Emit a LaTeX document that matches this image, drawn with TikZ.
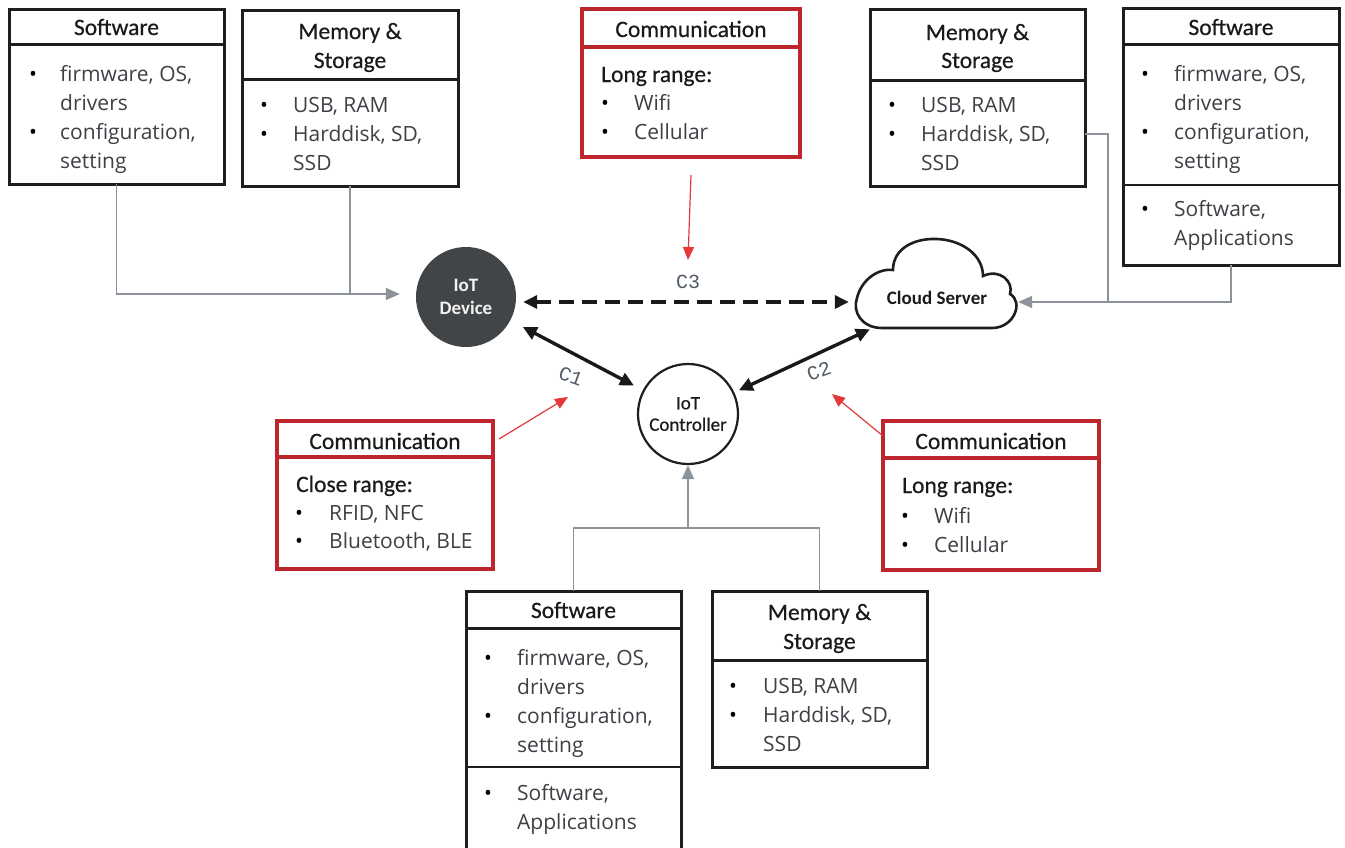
\documentclass[tikz,border=0pt]{standalone}
\usepackage{fontspec}
\usetikzlibrary{arrows.meta,shapes.geometric}
\newfontfamily\hdrfont{Carlito}[FakeBold=0.5]
\newfontfamily\capfont{Carlito}
\newfontfamily\bodyfont{Open Sans}
\newfontfamily\lblfont{Liberation Mono}
\definecolor{boxblack}{HTML}{1E1E1E}
\definecolor{boxred}{HTML}{BE262D}
\definecolor{redarrow}{HTML}{E5383B}
\definecolor{conngray}{HTML}{8C939B}
\definecolor{hdrtext}{HTML}{1A1A1A}
\definecolor{bodytext}{HTML}{3D4045}
\definecolor{devfill}{HTML}{424547}
\definecolor{lbltext}{HTML}{4F5A66}
% one line of text inside a box
\newcommand\bodyln[4]{\node[items] (#1) at (#2,#3) {#4};}
\newcommand\bul[3]{\node[dot] (#1) at (#2,#3) {•};}
\newcommand\hdln[4]{\node[hdr] (#1) at (#2,#3) {#4};}
\begin{document}
\begin{tikzpicture}[x=1pt,y=-1pt,
  box/.style={draw=boxblack, line width=3pt, anchor=north west, inner sep=0pt, outer sep=0pt, fill=white},
  redbox/.style={box, draw=boxred, line width=3.2pt},
  divider/.style={draw=boxblack, line width=3pt},
  thindiv/.style={draw=boxblack, line width=1.5pt},
  reddiv/.style={draw=boxred, line width=3.2pt},
  hdr/.style={font=\hdrfont\fontsize{23.5}{29}\selectfont, text=hdrtext, anchor=base, inner sep=0pt},
  sub/.style={font=\hdrfont\fontsize{23.5}{29}\selectfont, text=hdrtext, anchor=base west, inner sep=0pt},
  items/.style={font=\bodyfont\fontsize{21}{29}\selectfont, text=bodytext, anchor=base west, inner sep=0pt},
  dot/.style={font=\bodyfont\fontsize{21}{29}\selectfont, text=black, anchor=base, inner sep=0pt},
  conn/.style={draw=conngray, line width=1.6pt},
  connarrow/.style={conn, -{Triangle[length=14pt,width=12pt]}},
  link/.style={draw=black!90, line width=3.4pt, {Triangle[length=14pt,width=13pt]}-{Triangle[length=14pt,width=13pt]}},
  dashlink/.style={link, dash pattern=on 15pt off 8pt},
  redarr/.style={draw=redarrow, line width=1.2pt, -{Triangle[length=13pt,width=11pt]}},
  clbl/.style={font=\lblfont\fontsize{20}{24}\selectfont, text=lbltext, inner sep=0pt}
]
\useasboundingbox (0,0) rectangle (1345,847);
\fill[white] (0,0) rectangle (1345,847);

% ---------- the three devices ----------
\node[circle, fill=devfill, minimum size=100pt, inner sep=0pt, align=center,
      font=\capfont\bfseries\fontsize{19}{23}\selectfont, text=white!95!black] (dev) at (466,297) {IoT\\Device};
\node[circle, draw=boxblack, line width=2.2pt, fill=white, minimum size=100pt, inner sep=0pt, align=center,
      font=\hdrfont\fontsize{19}{21.5}\selectfont, text=hdrtext] (ctrl) at (688,414) {IoT\\Controller};
% cloud outline
\draw[boxblack, line width=2.6pt, fill=white]
  (882,328) .. controls (862,328) and (852,312) .. (857,298)
  .. controls (861,281) and (877,268) .. (893,270)
  .. controls (893,248) and (915,238) .. (937,239)
  .. controls (962,240) and (983,255) .. (983,276)
  .. controls (1000,268) and (1014,282) .. (1010,294)
  .. controls (1024,302) and (1014,328) .. (992,328)
  -- cycle;
\node[ellipse, minimum width=176pt, minimum height=96pt, inner sep=0pt,
      font=\capfont\bfseries\fontsize{19}{22}\selectfont, text=hdrtext] (cloud) at (937,298) {\raisebox{-5pt}{Cloud Server}};

% ---------- top-left boxes ----------
\node[box, minimum width=215pt, minimum height=175pt] (swA) at (9,9) {};
\draw[divider] (9,44) -- (224,44);
\hdln{swAh}{116.5}{35}{Software}
\bul{swAb1}{33}{81} \bul{swAb2}{33}{139}
\bodyln{swA1}{60}{81}{firmware, OS,}
\bodyln{swA2}{60}{110}{drivers}
\bodyln{swA3}{60}{139}{configuration,}
\bodyln{swA4}{60}{168}{setting}

\node[box, minimum width=216pt, minimum height=176pt] (mmA) at (242,10) {};
\draw[divider] (242,79) -- (458,79);
\hdln{mmAh1}{350}{39}{Memory \&}
\hdln{mmAh2}{350}{68}{Storage}
\bul{mmAb1}{264}{112} \bul{mmAb2}{264}{141}
\bodyln{mmA1}{293}{112}{USB, RAM}
\bodyln{mmA2}{293}{141}{Harddisk, SD,}
\bodyln{mmA3}{293}{170}{SSD}

% ---------- top communication box ----------
\node[redbox, minimum width=218pt, minimum height=148pt] (comT) at (582,9) {};
\draw[reddiv] (582,47) -- (800,47);
\hdln{comTh}{691}{37}{Communication}
\node[sub] (comTs) at (601,82) {Long range:};
\bul{comTb1}{605}{110} \bul{comTb2}{605}{139}
\bodyln{comT1}{634}{110}{Wifi}
\bodyln{comT2}{634}{139}{Cellular}

% ---------- top-right boxes ----------
\node[box, minimum width=215pt, minimum height=177pt] (mmB) at (870,9) {};
\draw[divider] (870,80) -- (1085,80);
\hdln{mmBh1}{977.5}{40}{Memory \&}
\hdln{mmBh2}{977.5}{68}{Storage}
\bul{mmBb1}{892}{112} \bul{mmBb2}{892}{141}
\bodyln{mmB1}{921}{112}{USB, RAM}
\bodyln{mmB2}{921}{141}{Harddisk, SD,}
\bodyln{mmB3}{921}{170}{SSD}

\node[box, minimum width=216pt, minimum height=257pt] (swB) at (1123,8) {};
\draw[divider] (1123,44) -- (1339,44);
\draw[thindiv] (1123,185) -- (1339,185);
\hdln{swBh}{1231}{35}{Software}
\bul{swBb1}{1145}{81} \bul{swBb2}{1145}{139} \bul{swBb3}{1145}{216}
\bodyln{swB1}{1174}{81}{firmware, OS,}
\bodyln{swB2}{1174}{110}{drivers}
\bodyln{swB3}{1174}{139}{configuration,}
\bodyln{swB4}{1174}{168}{setting}
\bodyln{swB5}{1174}{216}{Software,}
\bodyln{swB6}{1174}{245}{Applications}

% ---------- side communication boxes ----------
\node[redbox, minimum width=216pt, minimum height=148pt] (comL) at (277,421) {};
\draw[reddiv] (277,457) -- (493,457);
\hdln{comLh}{385}{449}{Communication}
\node[sub] (comLs) at (296,492) {Close range:};
\bul{comLb1}{299}{520} \bul{comLb2}{299}{548}
\bodyln{comL1}{329}{520}{RFID, NFC}
\bodyln{comL2}{329}{548}{Bluetooth, BLE}

\node[redbox, minimum width=216pt, minimum height=149pt] (comR) at (883,421) {};
\draw[reddiv] (883,458) -- (1099,458);
\hdln{comRh}{991}{449}{Communication}
\node[sub] (comRs) at (902,493) {Long range:};
\bul{comRb1}{905}{523} \bul{comRb2}{905}{552}
\bodyln{comR1}{934}{523}{Wifi}
\bodyln{comR2}{934}{552}{Cellular}

% ---------- bottom boxes ----------
\node[box, minimum width=215pt, minimum height=262pt] (swC) at (466,591) {};
\draw[divider] (466,628) -- (681,628);
\draw[thindiv] (466,767) -- (681,767);
\hdln{swCh}{573.5}{618}{Software}
\bul{swCb1}{488}{665} \bul{swCb2}{488}{723} \bul{swCb3}{488}{800}
\bodyln{swC1}{517}{665}{firmware, OS,}
\bodyln{swC2}{517}{694}{drivers}
\bodyln{swC3}{517}{723}{configuration,}
\bodyln{swC4}{517}{752}{setting}
\bodyln{swC5}{517}{800}{Software,}
\bodyln{swC6}{517}{829}{Applications}

\node[box, minimum width=215pt, minimum height=176pt] (mmC) at (712,591) {};
\draw[divider] (712,660) -- (927,660);
\hdln{mmCh1}{819.5}{620}{Memory \&}
\hdln{mmCh2}{819.5}{649}{Storage}
\bul{mmCb1}{733}{693} \bul{mmCb2}{733}{722}
\bodyln{mmC1}{763}{693}{USB, RAM}
\bodyln{mmC2}{763}{722}{Harddisk, SD,}
\bodyln{mmC3}{763}{751}{SSD}

% ---------- gray feed lines ----------
\coordinate (jL) at (350,294);
\coordinate (jR) at (1108,302);
\coordinate (jB) at (688,528);
\draw[conn] (swA.south) |- (jL);
\draw[connarrow] (mmA.south) -- (jL) -- ([xshift=-16pt,yshift=3pt]dev.west);
\draw[conn] ([yshift=-36.5pt]mmB.east) -| (jR);
\draw[connarrow] (swB.south) |- (jR) -- ([xshift=-7pt,yshift=-4pt]cloud.east);
\draw[conn] (swC.north) |- (jB) -| (mmC.north);
\draw[connarrow] (jB) -- (ctrl.south);

% ---------- communication links ----------
\draw[dashlink] ([xshift=7pt,yshift=-5pt]dev.east) -- ([yshift=-4pt]cloud.west);
\draw[link, shorten <=14pt, shorten >=10pt] (dev) -- (ctrl);
\draw[link, shorten <=5pt] (ctrl) -- (cloud);

\node[clbl] (c3) at (688,282) {C3};
\node[clbl, rotate=-20] (c1) at (571,376) {C1};
\node[clbl, rotate=20] (c2) at (819,371) {C2};

\draw[redarr] ([yshift=-18pt]comT.south) -- ([yshift=22pt]c3.center);
\draw[redarr] ([xshift=6pt,yshift=-18pt]comL.north east) -- ([xshift=-3pt,yshift=-21pt]c1.center);
\draw[redarr] ([yshift=-15pt]comR.north west) -- ([xshift=13pt,yshift=-23pt]c2.center);
\end{tikzpicture}
\end{document}
